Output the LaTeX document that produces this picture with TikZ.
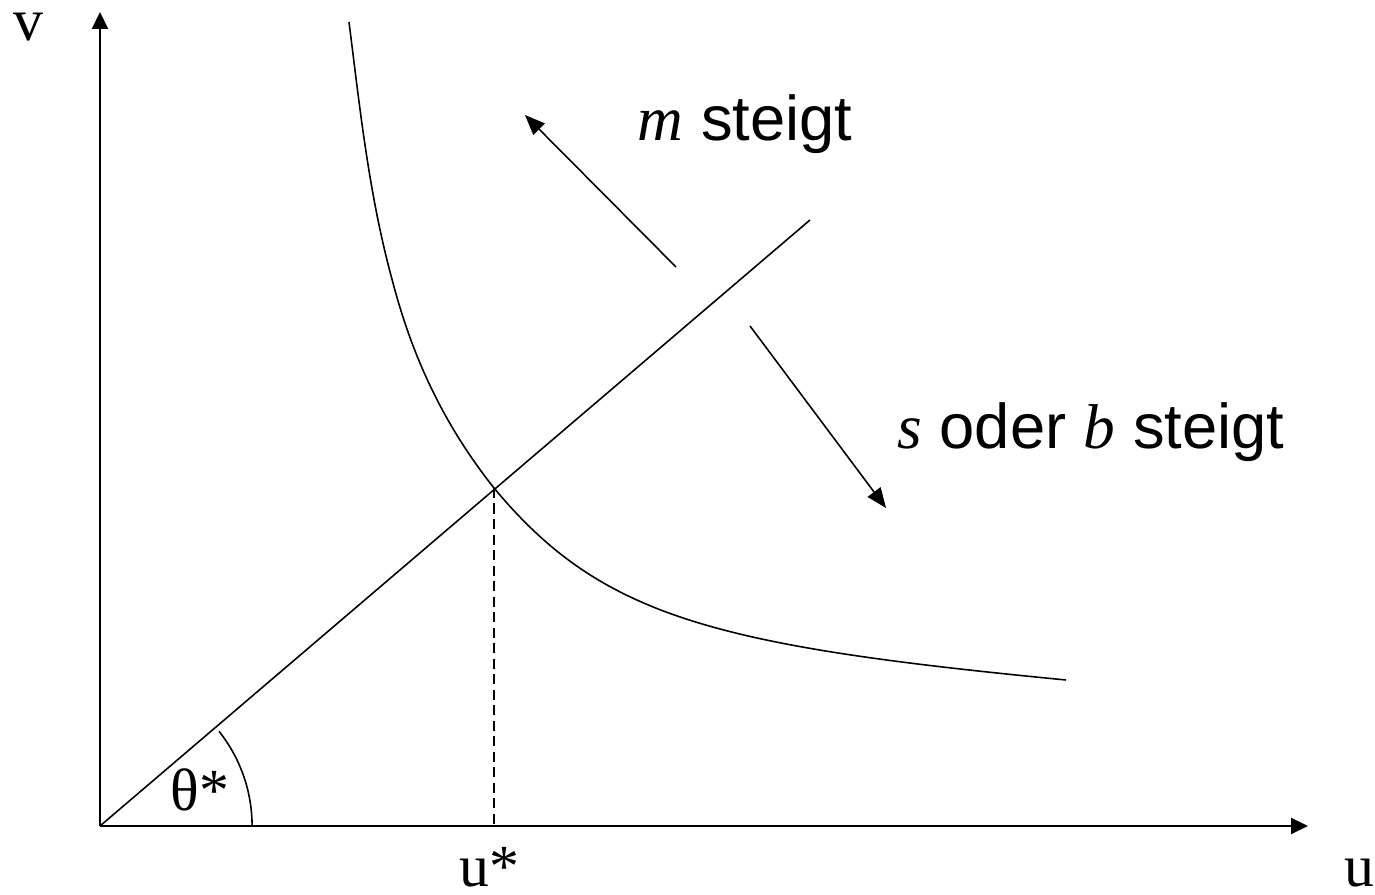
\documentclass[tikz,border=0pt]{standalone}
\usepackage{fontspec}
\setmainfont{Liberation Serif}
\newfontfamily\arialfont{Liberation Sans}
\usepackage{tikz}
\usetikzlibrary{arrows.meta}

\begin{document}
\begin{tikzpicture}[
  x=0.01cm, y=-0.01cm,
  every node/.style={font=\fontsize{18}{20}\selectfont, inner sep=0pt},
  axisLine/.style={line width=0.6pt, -{Triangle[length=1.7mm,width=1.6mm]}},
  plainLine/.style={line width=0.45pt},
  shiftArrow/.style={line width=0.45pt, -{Triangle[length=2mm,width=1.6mm]}},
  guideLine/.style={line width=0.45pt, dash pattern=on 1mm off 0.55mm},
  axisLabel/.style={anchor=base, font=\fontsize{17}{19}\selectfont},
  noteText/.style={anchor=base, font=\fontsize{18}{20}\arialfont}
]
\useasboundingbox (0,0) rectangle (1375,895);

\coordinate (origin) at (100,826);
\coordinate (vTip) at (100,12);
\coordinate (uTip) at (1308,826);
\coordinate (rayEnd) at (810,220);
\coordinate (cross) at (494,488);
\coordinate (uFoot) at (494,826);

% axes
\draw[axisLine] (origin) -- (vTip);
\draw[axisLine] (origin) -- (uTip);

% ray through the origin and dashed guide
\draw[plainLine] (origin) -- (rayEnd);
\draw[guideLine] (cross) -- (uFoot);

% angle mark
\draw[plainLine] ([xshift=1.52cm] origin) arc[start angle=0, end angle=38.5, radius=1.52cm];

% curve
\coordinate (curveTop) at (349,22);
\coordinate (curveMid) at (393,283);
\coordinate (curveEnd) at (1066,680);
\draw[plainLine] (curveTop) .. controls (360,109) and (369,196) .. (curveMid)
  .. controls (411,351) and (440,420) .. (cross)
  .. controls (602,618) and (716,646) .. (curveEnd);

% shift arrows
\coordinate (mFrom) at (676,267);
\coordinate (mTo) at (525,115);
\coordinate (sFrom) at (750,326);
\coordinate (sTo) at (886,508);
\draw[shiftArrow] (mFrom) -- (mTo);
\draw[shiftArrow] (sFrom) -- (sTo);

% labels
\node[axisLabel] (vLabel) at (28,41) {v};
\node[axisLabel] (uLabel) at (1359,887) {u};
\node[axisLabel] (uStarLabel) at (489,887) {u*};
\node[axisLabel] (thetaLabel) at (200,811) {θ*};
\node[noteText] (mNote) at (745,141) {\textit{\rmfamily m} steigt};
\node[noteText] (sNote) at (1091,449) {\textit{\rmfamily s} oder \textit{\rmfamily b} steigt};
\end{tikzpicture}
\end{document}
